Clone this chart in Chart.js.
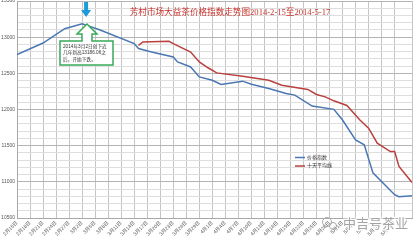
<!DOCTYPE html>
<html><head><meta charset="utf-8">
<script src="https://cdn.jsdelivr.net/npm/chart.js@4/dist/chart.umd.min.js"></script>
<style>html,body{margin:0;padding:0;background:#fff;overflow:hidden}#wrap{position:relative;width:419px;height:244px;overflow:hidden}#c{position:absolute;left:0;top:-4px}</style>
</head><body><div id="wrap"><canvas id="c" width="419" height="248"></canvas></div>
<script>
// tick labels (every 3 days, day index 0 = 2月15日)
const tickLabels = ["2月15日","2月18日","2月21日","2月24日","2月27日","3月2日","3月5日","3月8日","3月11日","3月14日","3月17日","3月20日","3月23日","3月26日","3月29日","4月1日","4月4日","4月7日","4月10日","4月13日","4月16日","4月19日","4月22日","4月25日","4月28日","5月1日","5月4日","5月7日","5月10日","5月13日","5月16日"];
// 价格指数 (day index since 2月15日, value)
const indexDays   = [0, 6, 11, 15, 19, 27, 28, 31, 36, 37, 39, 40, 42, 45, 47, 52, 54, 58, 62, 64, 68, 73, 75, 78, 80, 82, 87, 88, 91];
const indexValues = [12759, 12919, 13117, 13186, 13103, 12911, 12842, 12795, 12726, 12657, 12612, 12588, 12451, 12405, 12346, 12392, 12350, 12291, 12222, 12199, 12047, 12002, 11855, 11580, 11511, 11124, 10822, 10794, 10808];
// 十天平均线
const maDays   = [28, 29, 35, 36, 40, 42, 44, 46, 52, 58, 61, 67, 69, 71, 73, 76, 79, 81, 83, 86, 87, 88, 91];
const maValues = [12887, 12933, 12943, 12911, 12795, 12657, 12577, 12506, 12460, 12405, 12336, 12277, 12208, 12175, 12120, 12056, 11855, 11741, 11534, 11418, 11418, 11212, 10991];
const seriesNames = ["价格指数", "十天平均线"];
const titleText = "芳村市场大益茶价格指数走势图2014-2-15至2014-5-17";
const noteLines = ["2014年3月2日创下近", "几年新高13186.06之", "后，开始下跌。"];
const watermark = "中吉号茶业";

const BLUE = '#4a77b4', RED = '#b8413e';
const FONT = "'Liberation Sans','Noto Sans CJK SC',sans-serif";
const OY = 4; // canvas is shifted up by this many pixels

const decor = {
  id: 'decor',
  afterDraw(chart) {
    const ctx = chart.ctx;
    const xs = chart.scales.x;
    ctx.save();
    ctx.translate(0, OY);
    // title
    ctx.fillStyle = '#c8312c';
    ctx.font = "8.6px 'Liberation Serif','Noto Sans CJK SC',serif";
    ctx.textAlign = 'center'; ctx.textBaseline = 'middle';
    ctx.fillText(titleText, 230, 13);
    // blue down arrow above the peak
    const ax = xs.getPixelForValue(15) + 4;
    ctx.fillStyle = '#1d9ad8';
    ctx.beginPath();
    ctx.moveTo(ax - 2, 2); ctx.lineTo(ax + 2, 2); ctx.lineTo(ax + 2, 10);
    ctx.lineTo(ax + 5, 10); ctx.lineTo(ax, 17); ctx.lineTo(ax - 5, 10); ctx.lineTo(ax - 2, 10);
    ctx.closePath(); ctx.fill();
    // green callout
    const L = 60, R = 113, T = 41, B = 65, cx = 87;
    ctx.beginPath();
    ctx.moveTo(L, T); ctx.lineTo(cx - 5, T); ctx.lineTo(cx - 5, 34); ctx.lineTo(cx - 10, 34);
    ctx.lineTo(cx, 24); ctx.lineTo(cx + 10, 34); ctx.lineTo(cx + 5, 34); ctx.lineTo(cx + 5, T);
    ctx.lineTo(R, T); ctx.lineTo(R, B); ctx.lineTo(L, B); ctx.closePath();
    ctx.fillStyle = '#fff'; ctx.fill();
    ctx.strokeStyle = '#3aa95a'; ctx.lineWidth = 1.5; ctx.stroke();
    ctx.fillStyle = '#333';
    ctx.font = "4.7px " + FONT;
    ctx.textAlign = 'left';
    noteLines.forEach((t, i) => ctx.fillText(t, L + 3, 46.5 + i * 6.5));
    // legend
    ctx.lineWidth = 1.5;
    [[BLUE, 157.5], [RED, 166]].forEach((d, i) => {
      ctx.strokeStyle = d[0];
      ctx.beginPath(); ctx.moveTo(295, d[1]); ctx.lineTo(305, d[1]); ctx.stroke();
      ctx.fillStyle = '#333'; ctx.font = "5px " + FONT;
      ctx.fillText(seriesNames[i], 307, d[1]);
    });
    // watermark
    ctx.strokeStyle = '#a8a8a8'; ctx.lineWidth = 1;
    ctx.beginPath(); ctx.arc(327, 222, 4.5, 0, Math.PI * 2); ctx.stroke();
    ctx.beginPath(); ctx.arc(333, 226, 3.5, 0, Math.PI * 2); ctx.stroke();
    ctx.font = "13px 'Noto Sans CJK SC',sans-serif";
    ctx.strokeStyle = 'rgba(255,255,255,0.9)'; ctx.lineWidth = 2.5;
    ctx.strokeText(watermark, 343, 223);
    ctx.fillStyle = '#a4a4a4';
    ctx.fillText(watermark, 343, 223);
    ctx.restore();
  }
};

new Chart(document.getElementById('c'), {
  type: 'line',
  data: {
    datasets: [
      { label: seriesNames[0], data: indexDays.map((d, i) => ({x: d, y: indexValues[i]})),
        borderColor: BLUE, borderWidth: 1.5, pointRadius: 0, tension: 0, fill: false },
      { label: seriesNames[1], data: maDays.map((d, i) => ({x: d, y: maValues[i]})),
        borderColor: RED, borderWidth: 1.5, pointRadius: 0, tension: 0, fill: false }
    ]
  },
  options: {
    responsive: false, animation: false,
    layout: { padding: { top: 0, right: 7, left: 0, bottom: 0 } },
    plugins: { legend: { display: false }, tooltip: { enabled: false }, title: { display: false } },
    scales: {
      x: {
        type: 'linear', min: 0, max: 91,
        border: { color: '#a8a8a8' },
        grid: { color: '#c4c4c4', lineWidth: 1, drawTicks: false },
        afterFit: s => { s.height = 26; },
        ticks: {
          stepSize: 3, autoSkip: false, maxRotation: 45, minRotation: 45, padding: 2,
          color: '#555', font: { size: 5, family: FONT },
          callback: v => (v % 3 === 0 && tickLabels[v / 3]) ? tickLabels[v / 3] : ''
        }
      },
      y: {
        min: 10500, max: 13500,
        border: { color: '#a8a8a8' },
        grid: { color: c => (c.tick && c.tick.value % 500 === 0) ? '#b4b4b4' : '#dedede', lineWidth: 1, drawTicks: false },
        afterFit: s => { s.width = 17; },
        ticks: {
          stepSize: 100, autoSkip: false, padding: 2,
          color: '#555', font: { size: 5, family: FONT },
          callback: v => (v % 500 === 0) ? v : ''
        }
      }
    }
  },
  plugins: [decor]
});
</script></body></html>
